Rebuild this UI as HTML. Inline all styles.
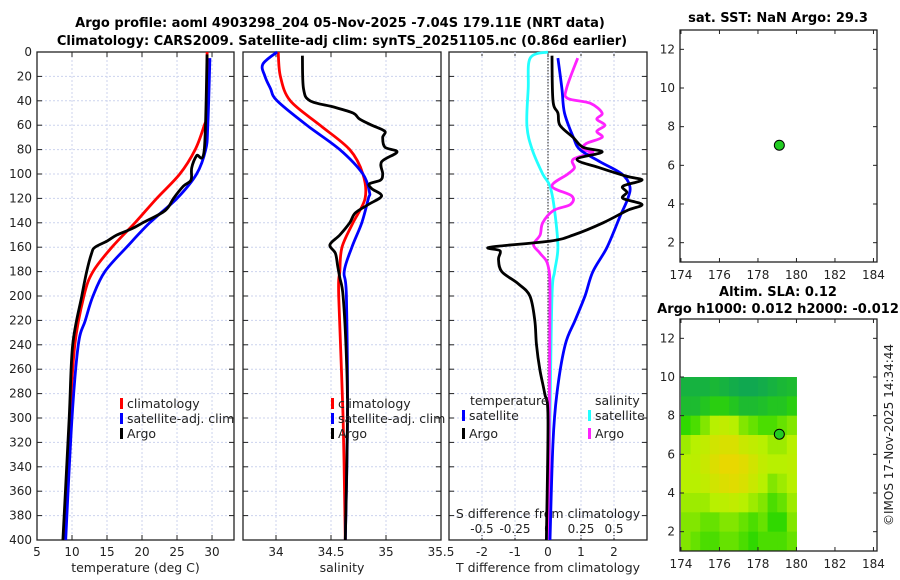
<!DOCTYPE html>
<html><head><meta charset="utf-8"><style>
body{margin:0;background:#fff;}
svg{display:block;font-family:"DejaVu Sans","Liberation Sans",sans-serif;}
</style></head><body>
<svg id="fig" width="900" height="580" viewBox="0 0 900 580">
<g id="titles">
<text x="340" y="27" text-anchor="middle" font-size="13" font-weight="bold">Argo profile: aoml 4903298_204 05-Nov-2025 -7.04S 179.11E (NRT data)</text>
<text x="342" y="45" text-anchor="middle" font-size="13" font-weight="bold">Climatology: CARS2009. Satellite-adj clim: synTS_20251105.nc (0.86d earlier)</text>
<text x="778" y="22" text-anchor="middle" font-size="13" font-weight="bold">sat. SST: NaN Argo: 29.3</text>
<text x="778" y="296" text-anchor="middle" font-size="13" font-weight="bold">Altim. SLA: 0.12</text>
<text x="778" y="313" text-anchor="middle" font-size="13" font-weight="bold">Argo h1000: 0.012 h2000: -0.012</text>
<text transform="translate(893,435) rotate(-90)" text-anchor="middle" font-size="12" fill="#222">©IMOS 17-Nov-2025 14:34:44</text>
</g>
</svg>
<script>
// ---- Panel 1: temperature ----
const tDepthClim=[0,50,60,80,100,120,140,160,180,200,240,300,400];
const tClim=[29.3,29.3,28.9,27.6,25.4,22.1,19.0,15.7,13.0,11.7,10.4,9.7,8.9];
const tDepthSat=[5,60,80,100,120,140,160,180,200,220,240,300,400];
const tSat=[29.7,29.4,29.1,27.8,25.0,21.1,17.8,14.7,13.0,11.9,10.9,10.0,9.1];
const tDepthArgo=[2,80,85,95,105,110,120,130,140,145,150,155,160,165,180,200,240,300,400];
const tArgo=[29.3,28.9,27.8,27.1,27.0,25.9,24.5,23.3,20.1,18.5,16.4,15.0,13.3,12.8,12.1,11.4,10.1,9.6,8.7];
const tTicks=[5,10,15,20,25,30];
// ---- Panel 2: salinity ----
const sDepthClim=[0,20,40,60,80,100,120,140,160,180,200,300,400];
const sClim=[34.02,34.04,34.13,34.40,34.67,34.79,34.81,34.70,34.60,34.58,34.57,34.61,34.63];
const sDepthSat=[0,10,20,30,40,60,80,100,115,120,140,160,180,200,300,400];
const sSat=[34.01,33.88,33.90,33.95,34.01,34.28,34.58,34.79,34.85,34.84,34.78,34.69,34.62,34.64,34.65,34.63];
const sDepthArgo=[3,30,40,45,50,55,60,65,70,78,82,90,100,105,108,112,118,125,132,140,150,158,165,175,185,200,250,300,400];
const sArgo=[34.24,34.25,34.31,34.52,34.70,34.76,34.87,34.99,34.97,34.99,35.10,34.96,34.97,34.95,34.85,34.87,34.96,34.84,34.72,34.67,34.58,34.49,34.54,34.56,34.58,34.61,34.64,34.65,34.63];
const sTicks=[34,34.5,35,35.5];
// ---- Panel 3: differences ----
const dDepthSatS=[0,5,30,60,80,100,110,130,160,180,200,300,400];
const dSatS=[0,-0.135,-0.15,-0.16,-0.12,-0.04,0.015,0.05,0.075,0.05,0.03,0.015,0];
const dDepthArgoS=[5,30,38,42,50,55,60,65,70,75,80,82,88,95,100,110,118,125,130,140,150,158,165,175,200,300,400];
const dArgoS=[0.225,0.14,0.15,0.32,0.41,0.37,0.43,0.37,0.41,0.29,0.26,0.34,0.19,0.2,0.15,0.03,0.18,0.17,0.04,-0.04,-0.06,-0.11,-0.06,0,0.015,0.01,0.01];
const dDepthSatT=[5,30,50,70,80,90,100,110,120,135,160,180,200,220,240,280,320,400];
const dSatT=[0.3,0.42,0.5,0.77,0.97,1.58,2.24,2.48,2.42,2.18,1.79,1.36,1.12,0.82,0.52,0.27,0.15,0.06];
const dDepthArgoT=[3,40,50,60,70,78,82,88,95,102,105,110,115,120,125,130,140,150,155,160,163,170,180,190,200,220,240,260,280,300,400];
const dArgoT=[0.12,0.15,0.3,0.36,0.76,1.06,1.64,0.88,1.58,2.4,2.85,2.27,2.39,2.27,2.85,2.39,1.67,0.77,0.06,-1.76,-1.45,-1.5,-1.4,-0.9,-0.55,-0.4,-0.35,-0.25,-0.1,0,-0.05];
const dTTicks=[-2,-1,0,1,2];
const dSTicks=[-0.5,-0.25,0,0.25,0.5];
const depthTicks=[0,20,40,60,80,100,120,140,160,180,200,220,240,260,280,300,320,340,360,380,400];
// ---- Maps ----
const mapXTicks=[174,176,178,180,182,184];
const mapYTicks=[2,4,6,8,10,12];
const argoLon=179.11, argoLat=7.04;
const slaLonStart=174, slaLatTop=10, slaStep=0.5, slaRowStep=1;
const slaGrid=[
[0.15,0.15,0.15,0.18,0.15,0.12,0.1,0.1,0.12,0.15,0.18,0.2],
[0.2,0.2,0.25,0.3,0.3,0.25,0.2,0.2,0.22,0.25,0.25,0.3],
[0.35,0.4,0.5,0.6,0.65,0.6,0.5,0.45,0.4,0.4,0.45,0.5],
[0.55,0.6,0.65,0.75,0.8,0.8,0.7,0.65,0.6,0.55,0.55,0.6],
[0.6,0.62,0.7,0.82,0.9,0.92,0.85,0.75,0.65,0.6,0.6,0.62],
[0.6,0.6,0.65,0.75,0.82,0.85,0.8,0.7,0.6,0.5,0.55,0.6],
[0.55,0.55,0.55,0.6,0.62,0.65,0.6,0.55,0.5,0.4,0.45,0.55],
[0.5,0.5,0.45,0.45,0.5,0.5,0.45,0.4,0.45,0.35,0.35,0.5],
[0.5,0.45,0.4,0.4,0.45,0.45,0.4,0.35,0.4,0.4,0.4,0.45]];

const NS="http://www.w3.org/2000/svg";
const svg=document.getElementById('fig');
function mk(tag,attrs,parent){const e=document.createElementNS(NS,tag);for(const k in attrs)e.setAttribute(k,attrs[k]);(parent||svg).appendChild(e);return e;}
const TOP=52,BOT=540;
const yD=d=>TOP+(BOT-TOP)*d/400;

function panel(name,x0,x1,xmin,xmax,xticks,labelsFmt,xlabel,showDepth){
  const g=mk('g',{});
  
  
  const sx=v=>x0+(v-xmin)/(xmax-xmin)*(x1-x0);
  depthTicks.forEach(d=>{
    if(d>0&&d<400){const l=mk('line',{x1:x0,x2:x1,y1:yD(d),y2:yD(d),stroke:'#ccd3ee','stroke-dasharray':'2,2','stroke-width':1},g);
    }
    mk('line',{x1:x0,x2:x0+5,y1:yD(d),y2:yD(d),stroke:'#222'},g);
    mk('line',{x1:x1-5,x2:x1,y1:yD(d),y2:yD(d),stroke:'#222'},g);
    if(showDepth){const t=mk('text',{x:x0-5,y:yD(d)+4,'text-anchor':'end','font-size':12,fill:'#222'},g);t.textContent=d;
    }
  });
  xticks.forEach(v=>{const X=sx(v);
    if(X>x0+1&&X<x1-1){const l=mk('line',{x1:X,x2:X,y1:TOP,y2:BOT,stroke:'#ccd3ee','stroke-dasharray':'2,2'},g);
    }
    mk('line',{x1:X,x2:X,y1:BOT,y2:BOT-5,stroke:'#222'},g);
    mk('line',{x1:X,x2:X,y1:TOP,y2:TOP+5,stroke:'#222'},g);
    const t=mk('text',{x:X,y:BOT+16,'text-anchor':'middle','font-size':12,fill:'#222'},g);t.textContent=labelsFmt(v);
    
  });
  const r=mk('rect',{x:x0,y:TOP,width:x1-x0,height:BOT-TOP,fill:'none',stroke:'#222','stroke-width':1.3},g);
  
  const xl=mk('text',{x:(x0+x1)/2,y:572,'text-anchor':'middle','font-size':12.5,fill:'#222'},g);xl.textContent=xlabel;
  
  return {g,sx};
}
function smoothPath(P){
  let d='M'+P[0][0].toFixed(1)+','+P[0][1].toFixed(1);
  for(let i=0;i<P.length-1;i++){
    const p0=P[Math.max(0,i-1)],p1=P[i],p2=P[i+1],p3=P[Math.min(P.length-1,i+2)];
    const c1=[p1[0]+(p2[0]-p0[0])/6,p1[1]+(p2[1]-p0[1])/6];
    const c2=[p2[0]-(p3[0]-p1[0])/6,p2[1]-(p3[1]-p1[1])/6];
    d+=` C${c1[0].toFixed(1)},${c1[1].toFixed(1)} ${c2[0].toFixed(1)},${c2[1].toFixed(1)} ${p2[0].toFixed(1)},${p2[1].toFixed(1)}`;
  }
  return d;
}
function line(p,depths,vals,color,name,sxFn){
  const P=depths.map((d,i)=>[sxFn(vals[i]),yD(d)]);
  const l=mk('path',{d:smoothPath(P),fill:'none',stroke:color,'stroke-width':2.8,'stroke-linejoin':'round'},p.g);
  
  
}
function legend(g,x,y,color,label,name){
  mk('rect',{x:x,y:y-10,width:3,height:11,fill:color},g);
  const t=mk('text',{x:x+7,y:y,'font-size':12.5,fill:'#222'},g);t.textContent=label;
  
  
}
// Panel 1
const sxT=v=>37+(v-5)*7;
const p1=panel('temperature-panel',37,234,5,33.14,tTicks,v=>v,'temperature (deg C)',true);
line(p1,tDepthClim,tClim,'#f00','climatology-temp-line',sxT);
line(p1,tDepthSat,tSat,'#00f','satellite-temp-line',sxT);
line(p1,tDepthArgo,tArgo,'#000','argo-temp-line',sxT);
legend(p1.g,120,408,'#f00','climatology','legend-climatology');
legend(p1.g,120,423,'#00f','satellite-adj. clim','legend-satellite');
legend(p1.g,120,438,'#000','Argo','legend-argo');
// Panel 2
const sxS=v=>243+(v-33.7)*110;
const p2=panel('salinity-panel',243,441,33.7,35.5,sTicks,v=>v,'salinity',false);
line(p2,sDepthClim,sClim,'#f00','climatology-sal-line',sxS);
line(p2,sDepthSat,sSat,'#00f','satellite-sal-line',sxS);
line(p2,sDepthArgo,sArgo,'#000','argo-sal-line',sxS);
legend(p2.g,331,408,'#f00','climatology','legend-climatology-sal');
legend(p2.g,331,423,'#00f','satellite-adj. clim','legend-satellite-sal');
legend(p2.g,331,438,'#000','Argo','legend-argo-sal');
// Panel 3
const sxDT=v=>548+v*33;
const sxDS=v=>548+v*132;
const p3=panel('difference-panel',449,647,-3,3,dTTicks,v=>v,'T difference from climatology',false);
dSTicks.forEach(v=>{if(v!==0){const l=mk('line',{x1:sxDS(v),x2:sxDS(v),y1:TOP,y2:BOT,stroke:'#ccd3ee','stroke-dasharray':'2,2'},p3.g);
  }
  const t=mk('text',{x:sxDS(v),y:533,'text-anchor':'middle','font-size':12,fill:'#222'},p3.g);t.textContent=v;
  });
const st=mk('text',{x:548,y:518,'text-anchor':'middle','font-size':12.5,fill:'#222'},p3.g);st.textContent='S difference from climatology';

const zl=mk('line',{x1:548,x2:548,y1:TOP,y2:BOT,stroke:'#444','stroke-dasharray':'1.5,1.5','stroke-width':1.2},p3.g);

line(p3,dDepthSatS,dSatS,'#2ff','satellite-sal-diff-line',sxDS);
line(p3,dDepthArgoS,dArgoS,'#f2f','argo-sal-diff-line',sxDS);
line(p3,dDepthSatT,dSatT,'#00f','satellite-temp-diff-line',sxDT);
line(p3,dDepthArgoT,dArgoT,'#000','argo-temp-diff-line',sxDT);
const lt=mk('text',{x:470,y:405,'font-size':12.5,fill:'#222'},p3.g);lt.textContent='temperature';

const ls=mk('text',{x:595,y:405,'font-size':12.5,fill:'#222'},p3.g);ls.textContent='salinity';

legend(p3.g,462,420,'#00f','satellite','legend-temp-satellite');
legend(p3.g,462,438,'#000','Argo','legend-temp-argo');
legend(p3.g,588,420,'#2ff','satellite','legend-sal-satellite');
legend(p3.g,588,438,'#f2f','Argo','legend-sal-argo');
// Maps
function cmap(v){const stops=[[0.1,[16,168,80]],[0.35,[48,216,0]],[0.6,[184,240,0]],[0.9,[232,216,0]]];
  if(v<=stops[0][0])return stops[0][1];for(let i=1;i<stops.length;i++){if(v<=stops[i][0]){const a=stops[i-1],b=stops[i],f=(v-a[0])/(b[0]-a[0]);return a[1].map((c,j)=>Math.round(c+(b[1][j]-c)*f));}}return stops[stops.length-1][1];}
function mapPanel(name,top,bottom,withGrid){
  const g=mk('g',{});
  
  
  const x0=680,x1=877;
  const mx=v=>x0+(v-173.95)*19.25;
  const my=v=>bottom-(v-1)*(bottom-top)/12;
  if(withGrid){slaGrid.forEach((row,ri)=>row.forEach((v,ci)=>{
    const lon=slaLonStart+ci*slaStep,lat=slaLatTop-ri*slaRowStep;
    const c=cmap(v);
    const r=mk('rect',{x:mx(lon),y:my(lat),width:mx(lon+slaStep)-mx(lon)+0.5,height:my(lat-slaRowStep)-my(lat)+0.5,fill:`rgb(${c})`},g);
    
    
  }));}
  mapXTicks.forEach(v=>{mk('line',{x1:mx(v),x2:mx(v),y1:bottom,y2:bottom-4,stroke:'#222'},g);mk('line',{x1:mx(v),x2:mx(v),y1:top,y2:top+4,stroke:'#222'},g);
    const t=mk('text',{x:mx(v),y:bottom+17,'text-anchor':'middle','font-size':12,fill:'#222'},g);t.textContent=v;
    });
  mapYTicks.forEach(v=>{mk('line',{x1:x0,x2:x0+4,y1:my(v),y2:my(v),stroke:'#222'},g);mk('line',{x1:x1-4,x2:x1,y1:my(v),y2:my(v),stroke:'#222'},g);
    const t=mk('text',{x:x0-5,y:my(v)+4,'text-anchor':'end','font-size':12,fill:'#222'},g);t.textContent=v;
    });
  const r=mk('rect',{x:x0,y:top,width:x1-x0,height:bottom-top,fill:'none',stroke:'#222','stroke-width':1.3},g);
  
  const c=mk('circle',{cx:mx(argoLon),cy:my(argoLat),r:5,fill:'#22cc22',stroke:'#000','stroke-width':1},g);
  
}
mapPanel('sst-map',30,262,false);
mapPanel('sla-map',319,551,true);
</script>
</body></html>
